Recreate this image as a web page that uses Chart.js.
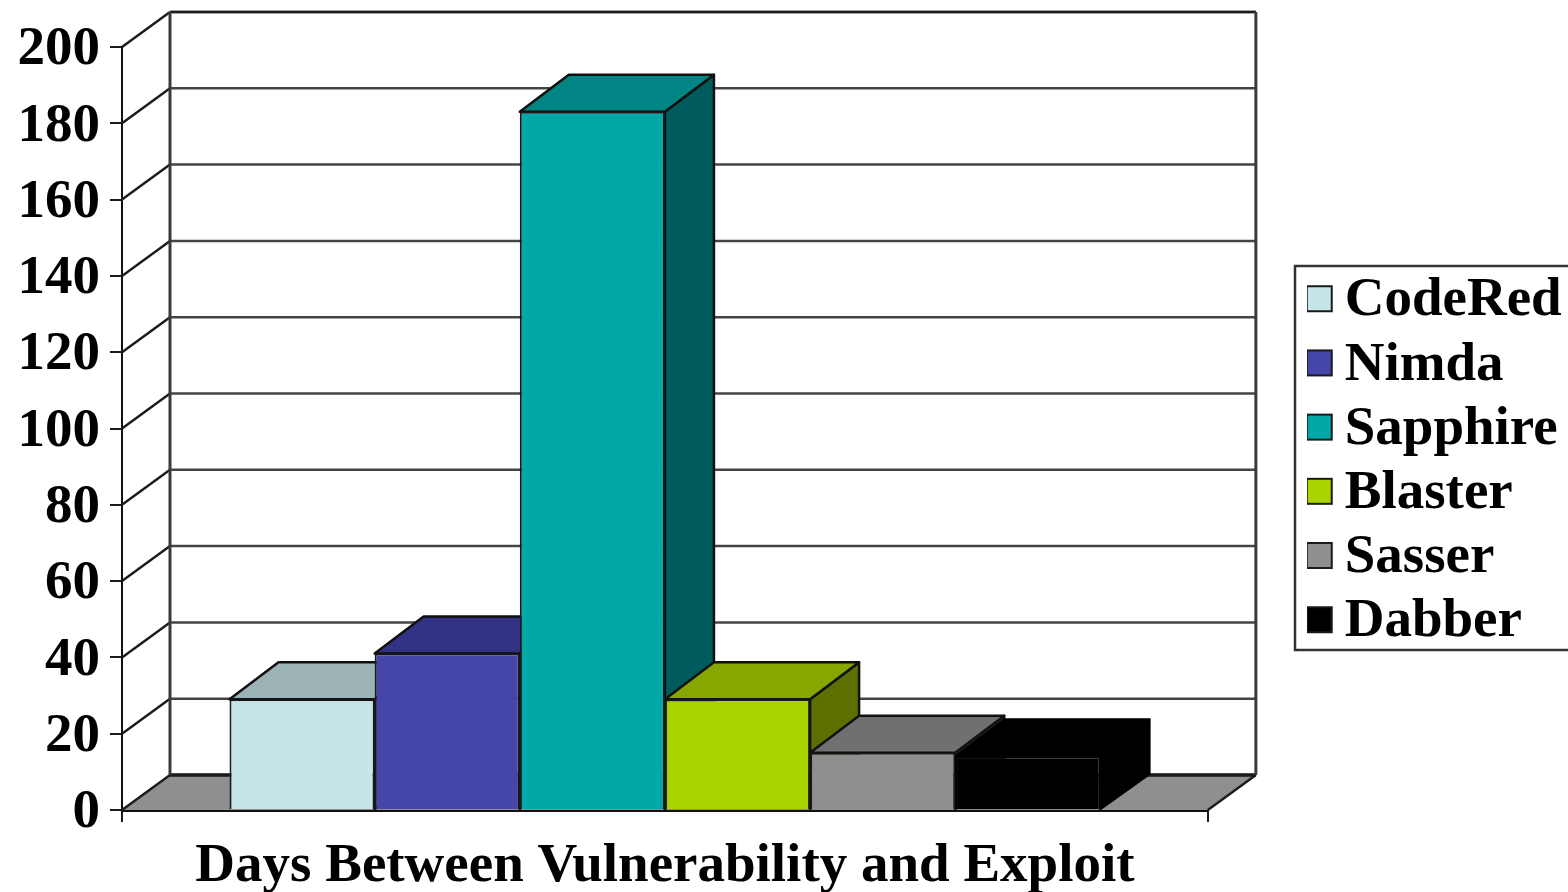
<!DOCTYPE html>
<html>
<head>
<meta charset="utf-8">
<title>Days Between Vulnerability and Exploit</title>
<script src="https://cdn.jsdelivr.net/npm/chart.js@4"></script>
<style>
  html, body { margin: 0; padding: 0; background: #fff; overflow: hidden; }
  canvas { display: block; }
</style>
</head>
<body>
<canvas id="chart" width="1568" height="892"></canvas>
<script>
// Data
const categories = ['Days Between Vulnerability and Exploit'];
const wormNames = ['CodeRed', 'Nimda', 'Sapphire', 'Blaster', 'Sasser', 'Dabber'];
const daysToExploit = [29, 41, 183, 29, 15, 14];
const yTicks = { min: 0, max: 200, step: 20 };

// Face colours per worm: front, top, side
const frontColors = ['#c6e5e8', '#4646a8', '#00a8a8', '#aad400', '#8f8f8f', '#000000'];
const topColors = ['#9bb3b5', '#333385', '#008484', '#86a600', '#707070', '#000000'];
const sideColors = ['#6f8082', '#26265f', '#005c5c', '#5c7000', '#4d4d4d', '#000000'];

// Pseudo-3D depth of the plot box and of the bars, in pixels
const DEPTH_X = 48;
const DEPTH_Y = 35;
const BAR_DEPTH_X = 49;
const BAR_DEPTH_Y = 37;
const FONT_FAMILY = '"Liberation Serif", serif';
const LINE = '#1c1c1c';

function poly(ctx, pts, fill, stroke, width) {
  ctx.beginPath();
  pts.forEach((p, i) => (i ? ctx.lineTo(p[0], p[1]) : ctx.moveTo(p[0], p[1])));
  ctx.closePath();
  if (fill) { ctx.fillStyle = fill; ctx.fill(); }
  if (stroke) { ctx.strokeStyle = stroke; ctx.lineWidth = width; ctx.lineJoin = 'round'; ctx.stroke(); }
}

function seg(ctx, x1, y1, x2, y2, color, width) {
  ctx.beginPath();
  ctx.moveTo(x1, y1);
  ctx.lineTo(x2, y2);
  ctx.strokeStyle = color;
  ctx.lineWidth = width;
  ctx.stroke();
}

// Legend swatch: a small square sitting slightly off the centre of its tile,
// which puts it closer to the entry text than the legend's own spacing would.
function swatch(color) {
  const tile = document.createElement('canvas');
  tile.width = 80;
  tile.height = 80;
  const c = tile.getContext('2d');
  const size = 27, cx = 42.5, cy = 37.5;
  c.fillStyle = color;
  c.fillRect(cx - size / 2, cy - size / 2, size, size);
  c.strokeStyle = '#1a1a1a';
  c.lineWidth = 2;
  c.strokeRect(cx - size / 2 + 1, cy - size / 2 + 1, size - 2, size - 2);
  return tile;
}

// Back wall, side wall and floor, plus the top and side faces of each bar.
const depthBox = {
  id: 'depthBox',
  afterLayout(chart) {
    // Legend sits in its own spot beyond the depth of the plot box
    const lg = chart.legend;
    const w = lg.width, h = lg.height;
    lg.left = 1307; lg.right = lg.left + w;
    lg.top = 264.5; lg.bottom = lg.top + h;
  },
  beforeDatasetsDraw(chart) {
    const { ctx, scales } = chart;
    const y = scales.y;
    const { left, right } = chart.chartArea;
    const bottom = y.getPixelForValue(yTicks.min);
    const top = y.getPixelForValue(yTicks.max);
    ctx.save();

    // Floor
    poly(ctx, [[left, bottom], [left + DEPTH_X, bottom - DEPTH_Y],
      [right + DEPTH_X, bottom - DEPTH_Y], [right, bottom]], '#8f8f8f');

    // Grid on the wall and its returns on the left side
    y.ticks.forEach(t => {
      const py = y.getPixelForValue(t.value);
      seg(ctx, left + DEPTH_X, py - DEPTH_Y, right + DEPTH_X, py - DEPTH_Y, '#444', 2.5);
      seg(ctx, left, py, left + DEPTH_X, py - DEPTH_Y, LINE, 2.5);
    });
    seg(ctx, left + DEPTH_X, bottom - DEPTH_Y, right + DEPTH_X, bottom - DEPTH_Y, LINE, 3.5);
    seg(ctx, left + DEPTH_X, top - DEPTH_Y, right + DEPTH_X, top - DEPTH_Y, LINE, 2.5);
    seg(ctx, left + DEPTH_X, top - DEPTH_Y, left + DEPTH_X, bottom - DEPTH_Y, '#3a3a3a', 3);
    seg(ctx, right + DEPTH_X, top - DEPTH_Y, right + DEPTH_X, bottom - DEPTH_Y, '#3a3a3a', 3);
    seg(ctx, right, bottom, right + DEPTH_X, bottom - DEPTH_Y, LINE, 2.5);

    // Bar depth faces, left to right so nearer bars overlap correctly
    wormNames.forEach((name, i) => {
      const bar = chart.getDatasetMeta(i).data[0].getProps(['x', 'y', 'base', 'width'], true);
      const x0 = bar.x - bar.width / 2, x1 = bar.x + bar.width / 2;
      const edge = i === 5 ? '#000' : '#111';
      poly(ctx, [[x1, bar.y], [x1 + BAR_DEPTH_X, bar.y - BAR_DEPTH_Y],
        [x1 + BAR_DEPTH_X, bar.base - DEPTH_Y], [x1, bar.base]], sideColors[i], edge, 2.5);
      poly(ctx, [[x0, bar.y], [x0 + BAR_DEPTH_X, bar.y - BAR_DEPTH_Y],
        [x1 + BAR_DEPTH_X, bar.y - BAR_DEPTH_Y], [x1, bar.y]], topColors[i], edge, 2.5);
    });
    ctx.restore();
  },
  beforeDraw(chart) {
    // Frame behind the legend entries; it runs off the right of the canvas
    const { ctx } = chart;
    ctx.save();
    ctx.strokeStyle = '#333';
    ctx.lineWidth = 2.5;
    ctx.strokeRect(1295, 266, 300, 384);
    ctx.restore();
  }
};

new Chart(document.getElementById('chart'), {
  type: 'bar',
  data: {
    labels: categories,
    datasets: wormNames.map((name, i) => ({
      label: name,
      data: [daysToExploit[i]],
      backgroundColor: frontColors[i],
      borderColor: i === 5 ? '#000000' : '#1a1a1a',
      borderWidth: 2,
      borderSkipped: 'bottom',
      categoryPercentage: 0.802,
      barPercentage: 1
    }))
  },
  plugins: [depthBox],
  options: {
    responsive: false,
    animation: false,
    layout: { padding: { top: 47, right: 95.5, bottom: 0, left: 0 } },
    plugins: {
      title: { display: false },
      tooltip: { enabled: false },
      legend: {
        position: 'right',
        align: 'start',
        labels: {
          color: '#000',
          font: { family: FONT_FAMILY, weight: 'bold', size: 55 },
          usePointStyle: true,
          boxWidth: 1,
          padding: 9.2,
          generateLabels(chart) {
            return Chart.defaults.plugins.legend.labels.generateLabels(chart)
              .map((item, i) => ({ ...item, pointStyle: swatch(frontColors[i]) }));
          }
        }
      }
    },
    scales: {
      x: {
        z: 1,
        afterFit(scale) { scale.height = 82; },
        grid: { drawOnChartArea: false, color: '#1c1c1c', lineWidth: 2, tickLength: 12 },
        border: { color: '#111', width: 3 },
        ticks: {
          color: '#000',
          padding: 12,
          maxRotation: 0,
          font: { family: FONT_FAMILY, weight: 'bold', size: 55 }
        }
      },
      y: {
        min: yTicks.min,
        max: yTicks.max,
        afterFit(scale) { scale.width = 122; },
        grid: { drawOnChartArea: false, color: '#1c1c1c', lineWidth: 2, tickLength: 12 },
        border: { color: '#111', width: 2 },
        ticks: {
          stepSize: yTicks.step,
          color: '#000',
          padding: 10,
          labelOffset: 3,
          font: { family: FONT_FAMILY, weight: 'bold', size: 55 }
        }
      }
    }
  }
});
</script>
</body>
</html>
